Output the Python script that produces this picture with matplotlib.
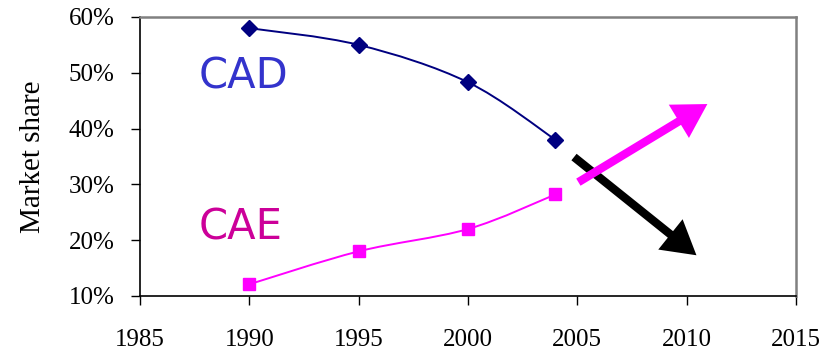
import matplotlib
matplotlib.use("Agg")
from matplotlib import pyplot as plt
from matplotlib.path import Path
from matplotlib.patches import PathPatch, FancyArrowPatch, ArrowStyle
import numpy as np

# market share by year
years = [1990, 1995, 2000, 2004]
cad = [58.0, 55.0, 48.3, 38.0]
cae = [12.1, 18.0, 22.0, 28.2]

# trend arrows (start, end) in (year, %)
cad_trend = [(2004.85, 34.9), (2010.45, 17.3)]
cae_trend = [(2005.05, 30.4), (2010.95, 44.4)]

xticks = [1985, 1990, 1995, 2000, 2005, 2010, 2015]
yticks = [10, 20, 30, 40, 50, 60]

serif = "Liberation Serif"


def smooth_path(x, y):
    # cubic bezier through the points, excel-like smoothing
    p = np.column_stack([x, y]).astype(float)
    n = len(p)
    verts = [p[0]]
    codes = [Path.MOVETO]
    for i in range(n - 1):
        prev = p[i - 1] if i > 0 else p[i]
        nxt = p[i + 2] if i + 2 < n else p[i + 1]
        c1 = p[i] + (p[i + 1] - prev) / 6.0
        c2 = p[i + 1] - (nxt - p[i]) / 6.0
        verts += [c1, c2, p[i + 1]]
        codes += [Path.CURVE4] * 3
    return Path(verts, codes)


fig = plt.figure(figsize=(8.35, 3.51), dpi=100)
ax = fig.add_axes([0.1677, 0.1567, 0.7855, 0.7949])

ax.add_patch(PathPatch(smooth_path(years, cad), fc="none", ec="#000080", lw=1.4))
ax.plot(years, cad, ls="none", marker="D", ms=8.5, color="#000080")
ax.add_patch(PathPatch(smooth_path(years, cae), fc="none", ec="#FF00FF", lw=1.4))
ax.plot(years, cae, ls="none", marker="s", ms=8.5, color="#FF00FF")

style = ArrowStyle.Simple(head_length=24, head_width=28, tail_width=6)
ax.add_patch(FancyArrowPatch(cad_trend[0], cad_trend[1], arrowstyle=style,
                             mutation_scale=1, color="black", lw=0,
                             shrinkA=0, shrinkB=0))
ax.add_patch(FancyArrowPatch(cae_trend[0], cae_trend[1], arrowstyle=style,
                             mutation_scale=1, color="#FF00FF", lw=0,
                             shrinkA=0, shrinkB=0))

ax.text(1989.75, 49.4, "CAD", color="#3333CC", fontsize=30, ha="center", va="center",
        family="DejaVu Sans")
ax.text(1989.6, 22.3, "CAE", color="#CC0099", fontsize=30, ha="center", va="center",
        family="DejaVu Sans")

ax.set_xlim(1985, 2015)
ax.set_ylim(10, 60)
ax.set_xticks(xticks)
ax.set_yticks(yticks)
ax.set_xticklabels([str(v) for v in xticks], family=serif, fontsize=18)
ax.set_yticklabels(["%d%%" % v for v in yticks], family=serif, fontsize=18)
ax.tick_params(axis="x", direction="out", length=6.5, width=1, pad=17)
ax.tick_params(axis="y", direction="out", length=6.5, width=1, pad=12)
ax.set_ylabel("Market share", family=serif, fontsize=21, labelpad=16)

for s in ["left", "bottom"]:
    ax.spines[s].set_color("black")
    ax.spines[s].set_linewidth(1.2)
for s in ["top", "right"]:
    ax.spines[s].set_color("#808080")
    ax.spines[s].set_linewidth(1.8)

fig.savefig("out.png", dpi=100)
